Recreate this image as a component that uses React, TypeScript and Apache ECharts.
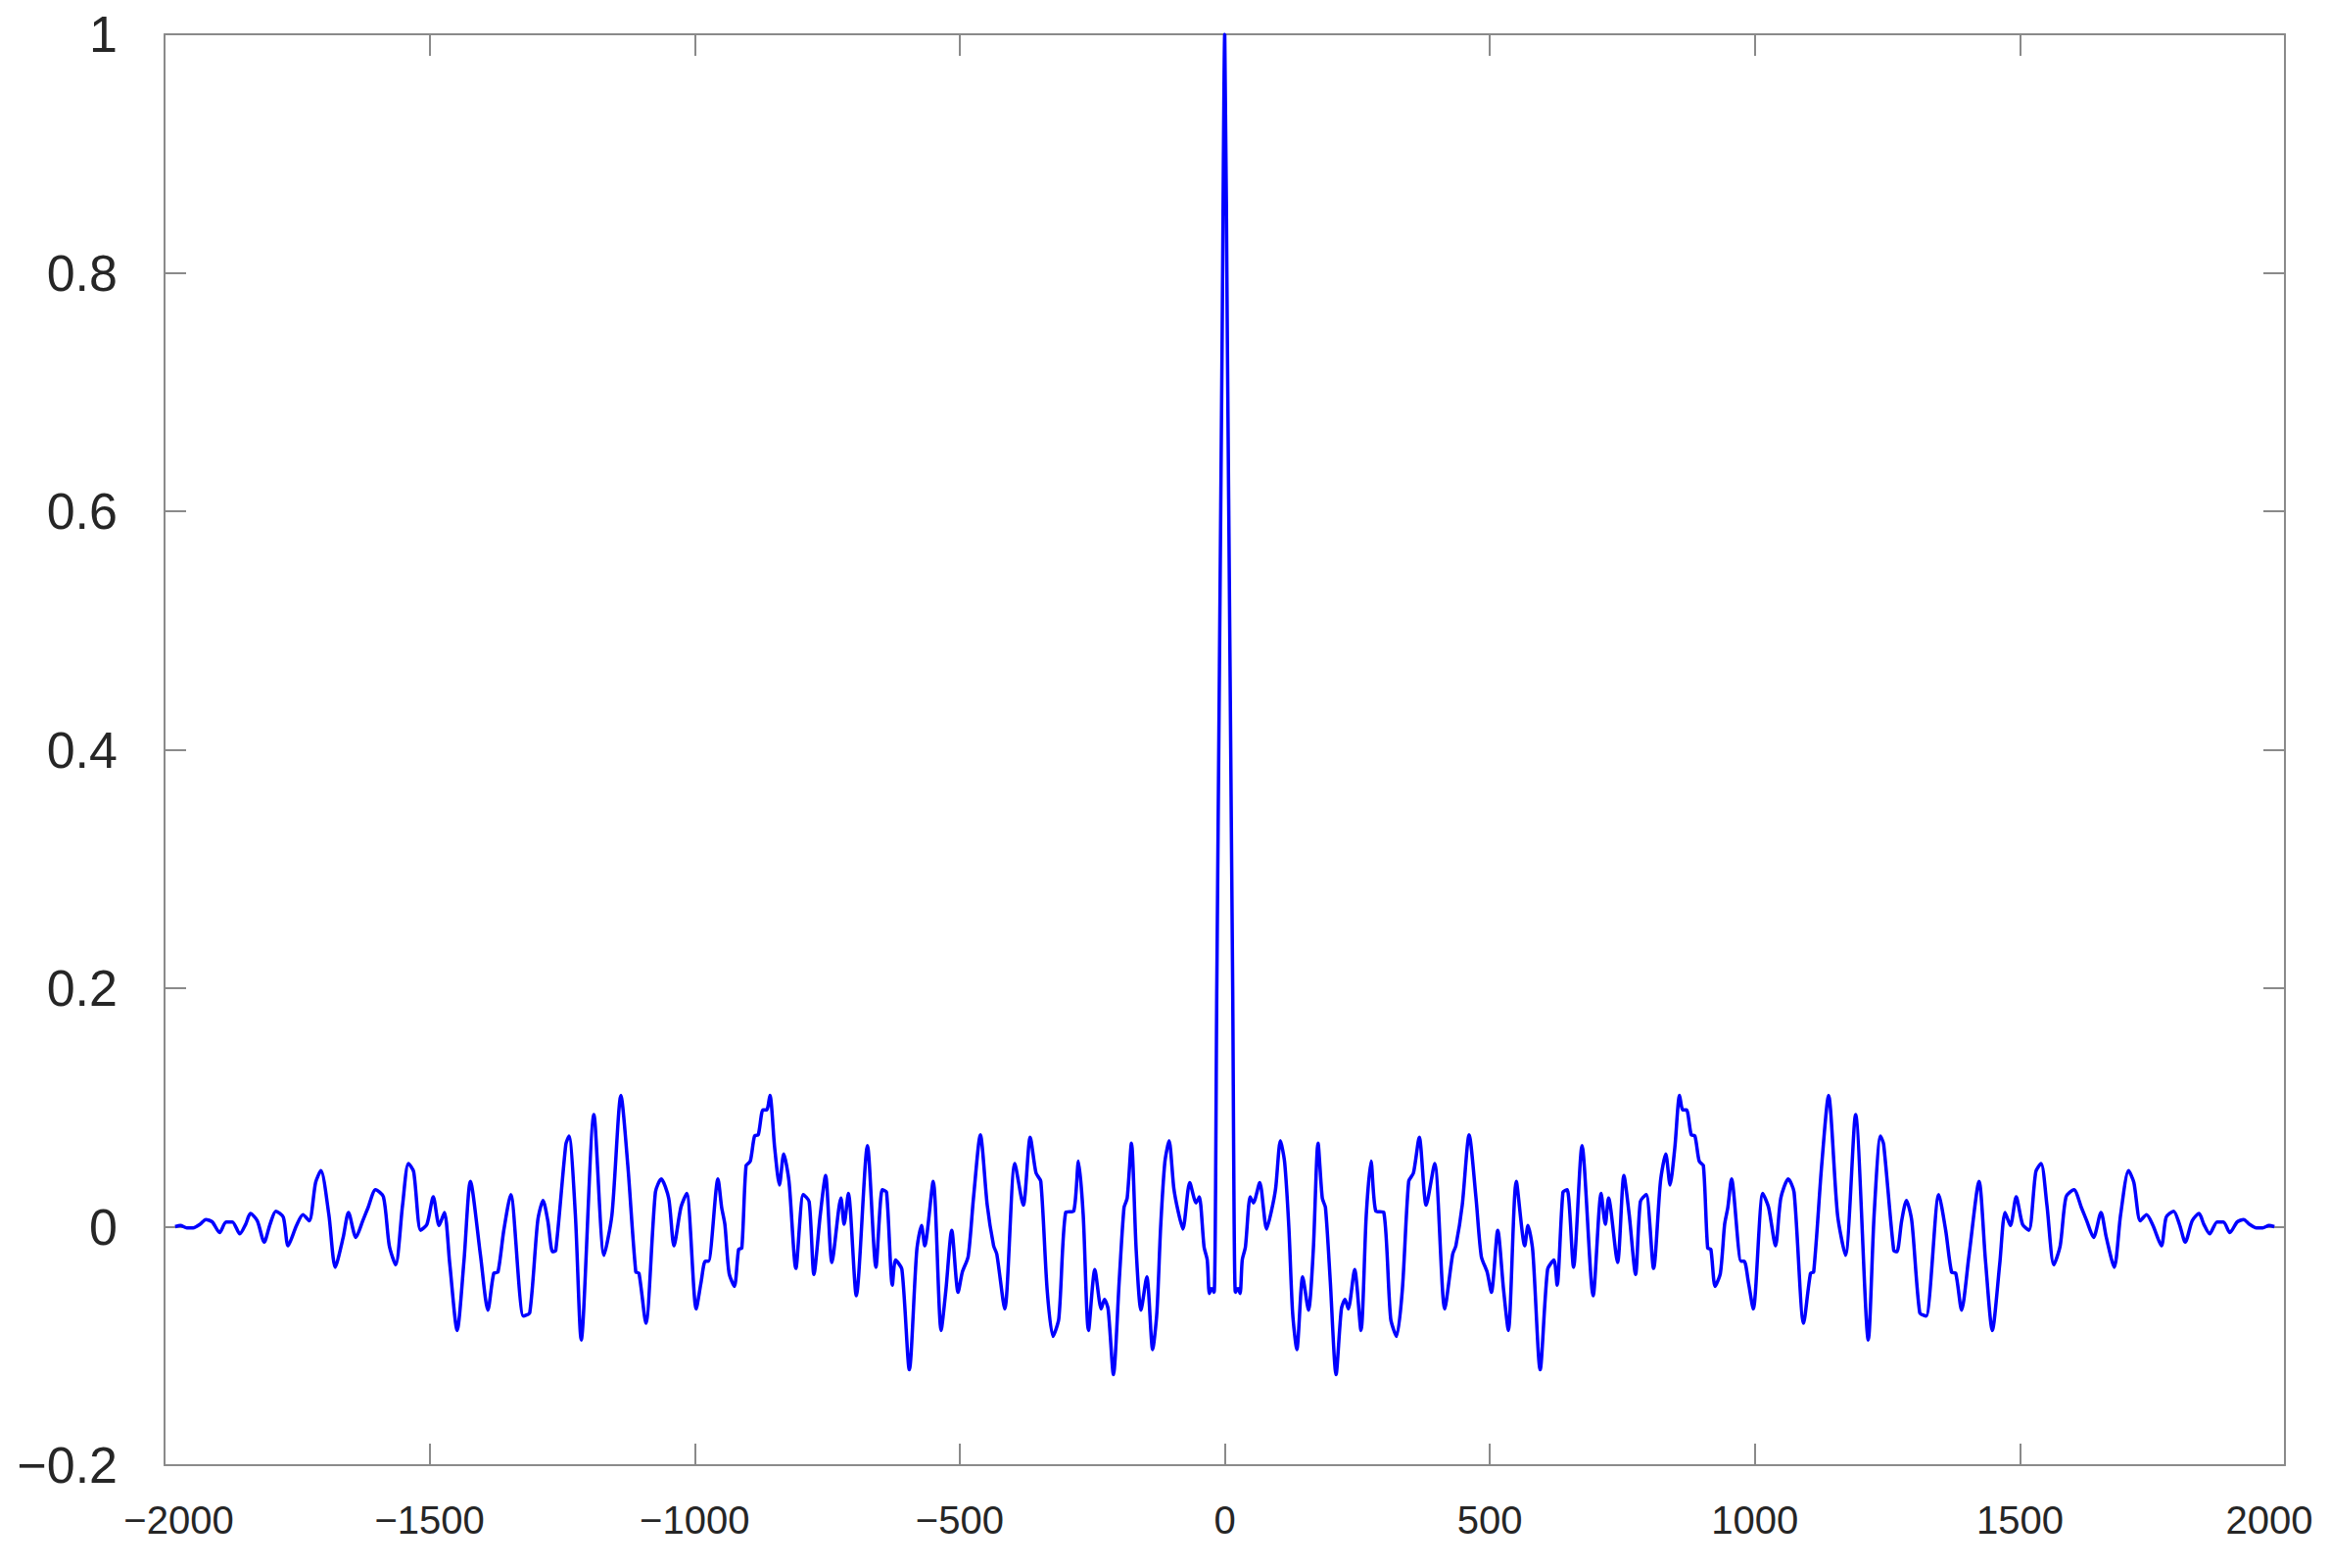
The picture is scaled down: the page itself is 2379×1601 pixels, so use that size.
import React, { useEffect, useRef } from "react";
import * as echarts from "echarts";

const lagsPos = [
  0, 5, 10, 15, 20, 25, 29, 33, 39, 48, 54, 66, 79, 88, 96, 105, 113, 121, 128, 136,
  147, 158, 167, 176, 184, 190, 199, 210, 220, 227, 233, 245, 257, 267, 276, 285, 300, 313, 324, 335,
  347, 356, 367, 380, 396, 415, 430, 436, 448, 461, 474, 484, 495, 503, 515, 526, 535, 550, 566, 572,
  581, 595, 609, 621, 627, 638, 646, 658, 674, 695, 710, 718, 724, 741, 753, 763, 775, 784, 795, 809,
  822, 832, 840, 849, 858, 864, 871, 880, 887, 895, 903, 911, 917, 925, 935, 943, 949, 956, 974, 980, 988, 997, 1015, 1026, 1039,
  1049, 1063, 1074, 1092, 1105, 1111, 1126, 1139, 1156, 1171, 1190, 1214, 1225, 1237, 1243, 1262, 1268, 1277, 1286, 1296,
  1311, 1323, 1347, 1360, 1371, 1379, 1390, 1404, 1423, 1435, 1448, 1462, 1472, 1482, 1493, 1505, 1517, 1530, 1540, 1551,
  1564, 1576, 1587, 1602, 1616, 1626, 1639, 1653, 1663, 1678, 1690, 1705, 1715, 1727, 1739, 1751, 1767, 1776, 1790, 1801,
  1812, 1825, 1838, 1847, 1858, 1872, 1884, 1896, 1910, 1922, 1933, 1946, 1958, 1970, 1980,
];
const acfPos = [
  1.0, 0.74, 0.47, 0.2, -0.055, -0.052, -0.056, -0.028, -0.017, 0.025, 0.02, 0.037, -0.002, 0.013, 0.032, 0.072, 0.054, -0.001, -0.072, -0.103,
  -0.042, -0.07, -0.02, 0.07, 0.024, 0.016, -0.045, -0.124, -0.069, -0.061, -0.069, -0.036, -0.087, 0.01, 0.055, 0.013, 0.012, -0.077, -0.092, -0.053,
  0.038, 0.045, 0.075, 0.018, 0.053, -0.069, -0.023, -0.016, 0.018, 0.077, 0.024, -0.025, -0.038, -0.055, -0.003, -0.053, -0.087, 0.038, -0.016, 0.001,
  -0.02, -0.12, -0.036, -0.028, -0.049, 0.029, 0.031, -0.034, 0.068, -0.058, 0.028, 0.002, 0.024, -0.03, 0.043, 0.01, -0.04, 0.021, 0.027, -0.035,
  0.038, 0.061, 0.035, 0.066, 0.11, 0.098, 0.098, 0.077, 0.076, 0.055, 0.051, -0.018, -0.019, -0.05, -0.039, 0.002, 0.016, 0.04, -0.029, -0.029, -0.047, -0.069, 0.028, 0.016, -0.016,
  0.024, 0.04, 0.029, -0.081, -0.039, -0.038, 0.051, 0.11, 0.01, -0.024, 0.094, -0.095, 0.01, 0.076, 0.069, -0.02, -0.021, 0.005, 0.022, 0.005,
  -0.072, -0.075, 0.027, -0.003, -0.038, -0.039, -0.07, -0.024, 0.038, -0.028, -0.087, -0.031, 0.012, 0.001, 0.025, 0.002, -0.003, 0.046, 0.053, 0.018,
  -0.032, -0.016, 0.025, 0.031, 0.016, 0.005, -0.009, 0.012, -0.009, -0.034, 0.01, 0.047, 0.037, 0.005, 0.01, 0.001, -0.016, 0.008, 0.013, 0.002,
  -0.013, 0.005, 0.011, 0.002, -0.006, 0.004, 0.004, -0.005, 0.004, 0.006, 0.002, -0.001, -0.001, 0.001, 0.0,
];

const xTicks = [-2000, -1500, -1000, -500, 0, 500, 1000, 1500, 2000];
const yTicks = [-0.2, 0, 0.2, 0.4, 0.6, 0.8, 1];

const AXIS_GREY = "#8a8a8a";
const TEXT = "#262626";
const FONT = "'Liberation Sans', Arial, Helvetica, sans-serif";

function buildSeries(): [number, number][] {
  const out: [number, number][] = [];
  for (let i = lagsPos.length - 1; i >= 1; i--) out.push([-lagsPos[i], acfPos[i]]);
  for (let i = 0; i < lagsPos.length; i++) out.push([lagsPos[i], acfPos[i]]);
  return out;
}

const minus = (s: string) => s.replace("-", "\u2212");

export default function App() {
  const ref = useRef<HTMLDivElement>(null);
  useEffect(() => {
    if (!ref.current) return;
    const chart = echarts.init(ref.current, undefined, { renderer: "svg" });
    const axisLine = { show: true, onZero: false, lineStyle: { color: AXIS_GREY, width: 2 } };
    const axisTick = { show: true, inside: true, length: 22, lineStyle: { color: AXIS_GREY, width: 2 } };
    chart.setOption({
      animation: false,
      backgroundColor: "#ffffff",
      grid: { left: 168, right: 46, top: 35, bottom: 105, containLabel: false, outerBoundsMode: "none" },
      xAxis: [
        {
          type: "value",
          position: "bottom",
          min: xTicks[0],
          max: xTicks[xTicks.length - 1],
          interval: 500,
          axisLine,
          axisTick,
          splitLine: { show: false },
          axisLabel: {
            margin: 36,
            fontSize: 40,
            color: TEXT,
            fontFamily: FONT,
            formatter: (v: number) => {
              const t = minus(String(v));
              if (v === xTicks[0]) return `{l|${t}}`;
              if (v === xTicks[xTicks.length - 1]) return `{r|${t}}`;
              return t;
            },
            rich: {
              l: { fontSize: 40, color: TEXT, fontFamily: FONT, padding: [0, 0, 0, 29] },
              r: { fontSize: 40, color: TEXT, fontFamily: FONT, padding: [0, 32, 0, 0] },
            },
          },
        },
        {
          type: "value",
          position: "top",
          min: xTicks[0],
          max: xTicks[xTicks.length - 1],
          interval: 500,
          axisLine,
          axisTick,
          splitLine: { show: false },
          axisLabel: { show: false },
        },
      ],
      yAxis: [
        {
          type: "value",
          position: "left",
          min: yTicks[0],
          max: yTicks[yTicks.length - 1],
          interval: 0.2,
          axisLine,
          axisTick,
          splitLine: { show: false },
          axisLabel: {
            margin: 48,
            fontSize: 52,
            color: TEXT,
            fontFamily: FONT,
            formatter: (v: number) => minus(String(Math.round(v * 10) / 10)),
          },
        },
        {
          type: "value",
          position: "right",
          min: yTicks[0],
          max: yTicks[yTicks.length - 1],
          interval: 0.2,
          axisLine,
          axisTick,
          splitLine: { show: false },
          axisLabel: { show: false },
        },
      ],
      series: [
        {
          type: "line",
          data: buildSeries(),
          xAxisIndex: 0,
          yAxisIndex: 0,
          showSymbol: false,
          smooth: 0.25,
          lineStyle: { color: "#0000ff", width: 3.5 },
          clip: true,
        },
      ],
    });
    return () => chart.dispose();
  }, []);
  return (
    <div
      ref={ref}
      style={{ position: "fixed", left: 0, top: 0, width: 2379, height: 1601, background: "#fff" }}
    />
  );
}
